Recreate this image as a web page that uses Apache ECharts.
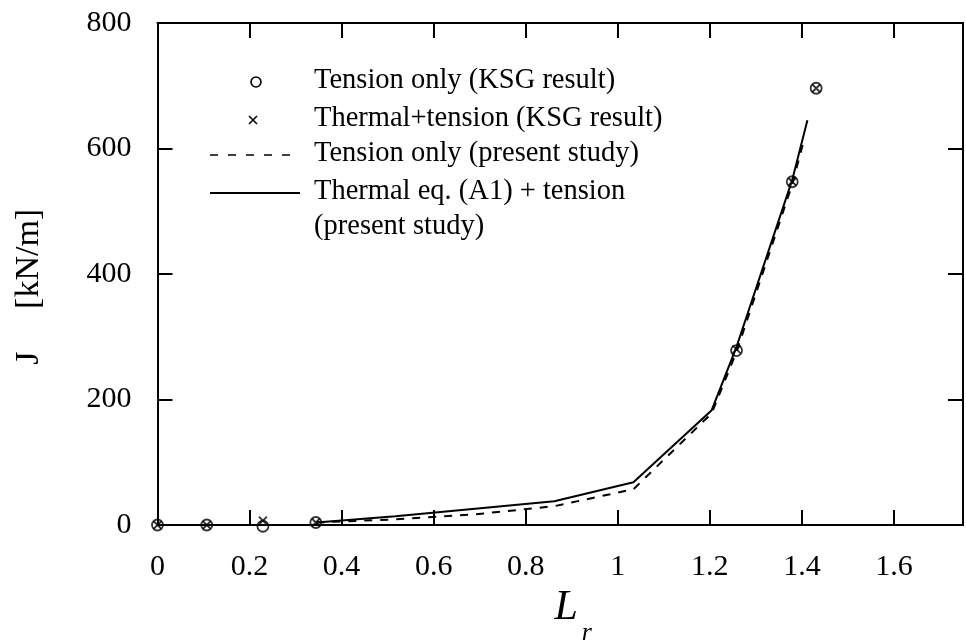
<!DOCTYPE html>
<html>
<head>
<meta charset="utf-8">
<script src="https://cdn.jsdelivr.net/npm/echarts@6/dist/echarts.min.js"></script>
<style>html,body{margin:0;padding:0;background:#fff}#c{width:966px;height:641px}</style>
</head>
<body>
<div id="c"></div>
<script>
// KSG results (markers)
const ksgLr = [0, 0.107, 0.229, 0.344, 1.258, 1.379, 1.431];
const tensionKSG = [0, 0, -2, 4, 278, 547, 696];
const thermalKSG = [0, 0, 7, 4, 280, 547, 696];
// present study (lines)
const dashLr = [0.345, 0.517, 0.69, 0.862, 1.034, 1.204, 1.258, 1.379, 1.404];
const tensionStudy = [4, 9, 17, 30, 57, 178, 276, 543, 612];
const solidLr = [0.345, 0.517, 0.69, 0.862, 1.034, 1.204, 1.258, 1.379, 1.412];
const thermalStudy = [4, 14, 26, 38, 68, 183, 284, 550, 645];
// legend labels
const legendLabels = ['Tension only (KSG result)', 'Thermal+tension (KSG result)', 'Tension only (present study)', 'Thermal eq. (A1) + tension', '(present study)'];

const FONT = 'Liberation Serif';
const pair = (xs, ys) => xs.map((x, i) => [x, ys[i]]);
const crossPath = 'path://M0,0L10,10M10,0L0,10';

const chart = echarts.init(document.getElementById('c'));
const axisCommon = () => ({
  axisLine: { onZero: false, lineStyle: { color: '#000', width: 2 } },
  axisTick: { inside: true, length: 15, lineStyle: { color: '#000', width: 2 } },
  splitLine: { show: false }
});
const legendRows = [82, 120, 155, 193, 228];
const graphics = [
  { type: 'circle', shape: { cx: 256, cy: legendRows[0], r: 5 }, style: { fill: 'none', stroke: '#000', lineWidth: 1.6 } },
  { type: 'line', shape: { x1: 249, y1: legendRows[1] - 4, x2: 257, y2: legendRows[1] + 4 }, style: { stroke: '#000', lineWidth: 1.6 } },
  { type: 'line', shape: { x1: 257, y1: legendRows[1] - 4, x2: 249, y2: legendRows[1] + 4 }, style: { stroke: '#000', lineWidth: 1.6 } },
  { type: 'line', shape: { x1: 210, y1: legendRows[2], x2: 300, y2: legendRows[2] }, style: { stroke: '#000', lineWidth: 1.6, lineDash: [8, 10] } },
  { type: 'line', shape: { x1: 210, y1: legendRows[3], x2: 300, y2: legendRows[3] }, style: { stroke: '#000', lineWidth: 2 } }
];
legendLabels.forEach((t, i) => {
  graphics.push({ type: 'text', x: 314, y: legendRows[i] - 17, scaleX: 0.95, style: { text: t, font: '30px "Liberation Serif"', fill: '#000' } });
});

chart.setOption({
  animation: false,
  backgroundColor: '#fff',
  grid: { left: 157.5, right: 3, top: 23, bottom: 116, containLabel: false, outerBoundsMode: 'none' },
  xAxis: [
    Object.assign(axisCommon(), {
      type: 'value', min: 0, max: 1.75, interval: 0.2, position: 'bottom',
      axisLabel: { color: '#000', fontFamily: FONT, fontSize: 30, margin: 27, showMaxLabel: false },
      name: '{a|L}{b|r}', nameLocation: 'middle', nameGap: 58,
      nameTextStyle: { rich: {
        a: { fontFamily: FONT, fontStyle: 'italic', fontSize: 42, color: '#000', padding: [0, 0, 17, 26] },
        b: { fontFamily: FONT, fontStyle: 'italic', fontSize: 26, color: '#000', padding: [34, 0, 0, 4] }
      } }
    }),
    Object.assign(axisCommon(), {
      type: 'value', min: 0, max: 1.75, interval: 0.2, position: 'top',
      axisLabel: { show: false }
    })
  ],
  yAxis: [
    Object.assign(axisCommon(), {
      type: 'value', min: 0, max: 800, interval: 200, position: 'left',
      axisLabel: { color: '#000', fontFamily: FONT, fontSize: 30, margin: 26 },
      name: 'J     [kN/m]   ', nameLocation: 'middle', nameGap: 111, nameRotate: 90,
      nameTextStyle: { fontFamily: FONT, fontSize: 34, color: '#000' }
    }),
    Object.assign(axisCommon(), {
      type: 'value', min: 0, max: 800, interval: 200, position: 'right',
      axisLabel: { show: false }
    })
  ],
  graphic: graphics,
  series: [
    { type: 'line', data: pair(dashLr, tensionStudy), symbol: 'none', lineStyle: { color: '#000', width: 2, type: [8, 8] }, z: 2 },
    { type: 'line', data: pair(solidLr, thermalStudy), symbol: 'none', lineStyle: { color: '#000', width: 2 }, z: 3 },
    { type: 'scatter', data: pair(ksgLr, tensionKSG), symbol: 'circle', symbolSize: 11, clip: false,
      itemStyle: { color: 'rgba(255,255,255,0)', borderColor: '#000', borderWidth: 1.8 }, z: 4 },
    { type: 'scatter', data: pair(ksgLr, thermalKSG), symbol: crossPath, symbolSize: 8, clip: false,
      itemStyle: { color: 'none', borderColor: '#000', borderWidth: 1.8 }, z: 5 }
  ]
});
</script>
</body>
</html>
